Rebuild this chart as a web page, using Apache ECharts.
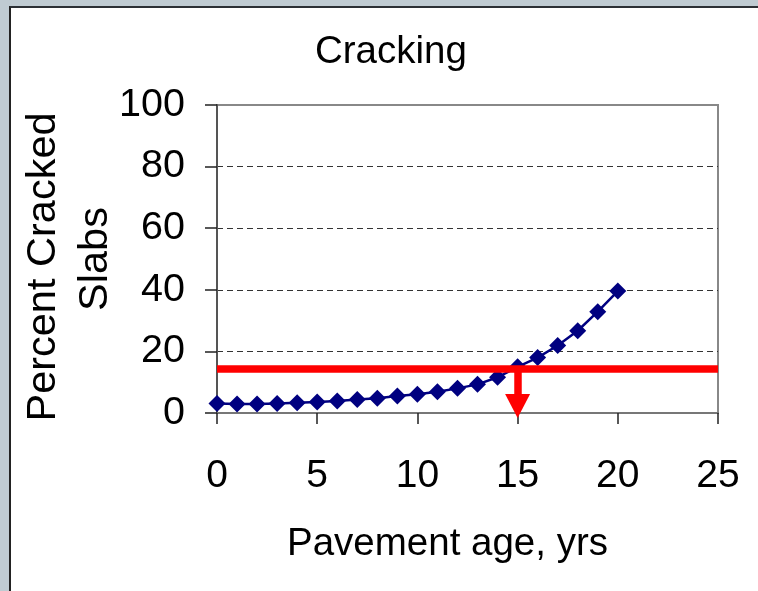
<!DOCTYPE html>
<html>
<head>
<meta charset="utf-8">
<script src="https://cdn.jsdelivr.net/npm/echarts@6/dist/echarts.min.js"></script>
<style>
body {
  margin: 0;
  background: #bfcbd2;
}
#frame {
  position: absolute;
  left: 9px;
  top: 6px;
  width: 749px;
  height: 585px;
  background: #fff;
  border-left: 2px solid #222;
  border-top: 2px solid #2b3035;
}
#main {
  position: absolute;
  left: 0;
  top: 0;
  width: 758px;
  height: 591px;
}
</style>
</head>
<body>
<div id="frame"></div>
<div id="main"></div>
<script>
// pavement age (years) and percent cracked slabs
var ages = [0, 1, 2, 3, 4, 5, 6, 7, 8, 9, 10, 11, 12, 13, 14, 15, 16, 17, 18, 19, 20]
var cracked = [3.1, 2.9, 2.9, 3.1, 3.3, 3.6, 3.9, 4.4, 4.8, 5.5, 6.1, 6.9, 8.0, 9.3, 11.6, 15.0, 18.0, 21.9, 26.7, 32.9, 39.6]
// red limit line and the arrow pointing down to the age where it is reached
var limitLevel = 14.5
var limitAge = 15
var arrowEnd = 2.3
var xTicks = [0, 25, 5]
var yTicks = [0, 100, 20]

var points = []
for (var i = 0; i < ages.length; i++) {
  points.push([ages[i], cracked[i]])
}

var font = 'Arial, "Liberation Sans", sans-serif'
var chart = echarts.init(document.getElementById('main'))
chart.setOption({
  animation: false,
  backgroundColor: 'transparent',
  title: {
    text: 'Cracking',
    left: 310,
    top: 28,
    textStyle: { fontFamily: font, fontSize: 38.5, fontWeight: 'normal', color: '#000' }
  },
  grid: {
    left: 217,
    right: 40,
    top: 105,
    bottom: 178,
    outerBoundsMode: 'none',
    show: true,
    borderColor: '#888',
    borderWidth: 2,
    backgroundColor: 'transparent'
  },
  xAxis: {
    type: 'value',
    min: xTicks[0],
    max: xTicks[1],
    interval: xTicks[2],
    name: 'Pavement age, yrs',
    nameLocation: 'middle',
    nameGap: 112,
    nameMoveOverlap: false,
    nameTextStyle: { fontFamily: font, fontSize: 38.5, color: '#000', padding: [0, 40, 0, 0] },
    axisLine: { lineStyle: { color: '#777', width: 2 } },
    axisTick: { length: 11, lineStyle: { color: '#222', width: 1.5 } },
    axisLabel: { margin: 44, fontFamily: font, fontSize: 39, color: '#000' },
    splitLine: { show: false }
  },
  yAxis: {
    type: 'value',
    min: yTicks[0],
    max: yTicks[1],
    interval: yTicks[2],
    name: '{a|Percent Cracked}\n{b|Slabs}',
    nameLocation: 'middle',
    nameGap: 95,
    nameRotate: 90,
    nameMoveOverlap: false,
    nameTextStyle: {
      fontFamily: font,
      fontSize: 41.5,
      lineHeight: 52,
      color: '#000',
      rich: {
        a: { fontFamily: font, fontSize: 41.5, lineHeight: 52, color: '#000', padding: [0, 16, 0, 0] },
        b: { fontFamily: font, fontSize: 41.5, lineHeight: 52, color: '#000' }
      }
    },
    axisLine: { show: true, lineStyle: { color: '#555', width: 2 } },
    axisTick: { show: true, length: 12, lineStyle: { color: '#222', width: 1.5 } },
    axisLabel: { margin: 32, fontFamily: font, fontSize: 39.5, color: '#000', padding: [5, 0, 0, 0] },
    splitLine: {
      show: true,
      showMinLine: false,
      showMaxLine: false,
      lineStyle: { color: '#333', width: 1, type: [6, 4] }
    }
  },
  series: [
    {
      name: 'cracking',
      type: 'line',
      data: points,
      symbol: 'diamond',
      symbolSize: 17,
      lineStyle: { color: '#000080', width: 2.5 },
      itemStyle: { color: '#000080' },
      z: 2
    },
    {
      name: 'limit',
      type: 'line',
      data: [],
      clip: false,
      z: 5,
      markLine: {
        silent: true,
        animation: false,
        label: { show: false },
        emphasis: { disabled: true },
        data: [
          [
            { coord: [xTicks[0], limitLevel], symbol: 'none' },
            { coord: [xTicks[1], limitLevel], symbol: 'none' }
          ],
          [
            { coord: [limitAge, limitLevel], symbol: 'none' },
            { coord: [limitAge, arrowEnd], symbol: 'triangle', symbolSize: [25, 24] }
          ]
        ],
        lineStyle: { color: '#ff0000', width: 7.5, type: 'solid' }
      }
    }
  ]
})
</script>
</body>
</html>
